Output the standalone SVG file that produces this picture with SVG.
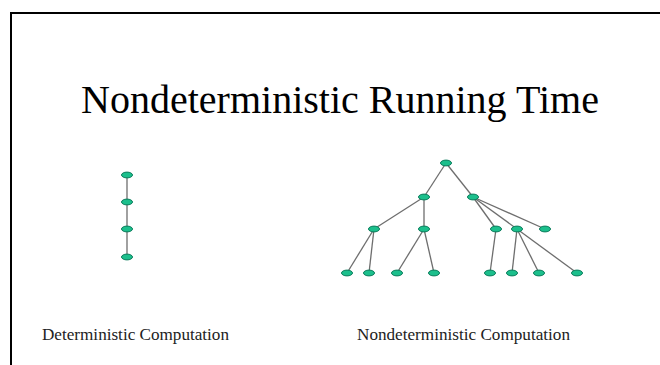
<svg xmlns="http://www.w3.org/2000/svg" width="660" height="365" viewBox="0 0 660 365">
  <style>
    .node { fill: #1cbf8c; stroke: #0b7d5c; stroke-width: 1; }
    .edge { stroke: #6e6e6e; stroke-width: 1.3; fill: none; }
    .title { font-family: "Liberation Serif", "Times New Roman", serif; font-size: 40px; fill: #000; }
    .caption { font-family: "Liberation Serif", "Times New Roman", serif; font-size: 17px; fill: #222; }
  </style>
  <defs>
    <ellipse id="dot" rx="5.5" ry="2.9"/>
  </defs>
  <rect width="660" height="365" fill="#fff"/>
  <!-- slide frame: left and top edges only -->
  <path d="M11 365 V13 H660" fill="none" stroke="#000" stroke-width="2"/>

  <text class="title" x="340" y="113" text-anchor="middle">Nondeterministic Running Time</text>

  <!-- connectors -->
  <g id="connectors" class="edge">
    <!-- deterministic chain -->
    <line x1="127" y1="175" x2="127" y2="257"/>
    <!-- nondeterministic tree -->
    <line x1="446" y1="163" x2="424" y2="197"/>
    <line x1="446" y1="163" x2="473" y2="197"/>
    <line x1="424" y1="197" x2="374" y2="229"/>
    <line x1="424" y1="197" x2="424" y2="229"/>
    <line x1="473" y1="197" x2="496" y2="229"/>
    <line x1="473" y1="197" x2="517" y2="229"/>
    <line x1="473" y1="197" x2="545" y2="229"/>
    <line x1="374" y1="229" x2="347" y2="273"/>
    <line x1="374" y1="229" x2="369" y2="273"/>
    <line x1="424" y1="229" x2="397" y2="273"/>
    <line x1="424" y1="229" x2="434" y2="273"/>
    <line x1="496" y1="229" x2="490" y2="273"/>
    <line x1="517" y1="229" x2="512" y2="273"/>
    <line x1="517" y1="229" x2="539" y2="273"/>
    <line x1="517" y1="229" x2="577" y2="273"/>
  </g>

  <!-- deterministic computation nodes -->
  <g id="d1" class="node"><use href="#dot" x="127" y="175"/></g>
  <g id="d2" class="node"><use href="#dot" x="127" y="202"/></g>
  <g id="d3" class="node"><use href="#dot" x="127" y="229"/></g>
  <g id="d4" class="node"><use href="#dot" x="127" y="257"/></g>

  <!-- nondeterministic computation nodes -->
  <g id="n-root" class="node"><use href="#dot" x="446" y="163"/></g>
  <g id="n-a" class="node"><use href="#dot" x="424" y="197"/></g>
  <g id="n-b" class="node"><use href="#dot" x="473" y="197"/></g>
  <g id="n-aa" class="node"><use href="#dot" x="374" y="229"/></g>
  <g id="n-ab" class="node"><use href="#dot" x="424" y="229"/></g>
  <g id="n-ba" class="node"><use href="#dot" x="496" y="229"/></g>
  <g id="n-bb" class="node"><use href="#dot" x="517" y="229"/></g>
  <g id="n-bc" class="node"><use href="#dot" x="545" y="229"/></g>
  <g id="n-aaa" class="node"><use href="#dot" x="347" y="273"/></g>
  <g id="n-aab" class="node"><use href="#dot" x="369" y="273"/></g>
  <g id="n-aba" class="node"><use href="#dot" x="397" y="273"/></g>
  <g id="n-abb" class="node"><use href="#dot" x="434" y="273"/></g>
  <g id="n-baa" class="node"><use href="#dot" x="490" y="273"/></g>
  <g id="n-bba" class="node"><use href="#dot" x="512" y="273"/></g>
  <g id="n-bbb" class="node"><use href="#dot" x="539" y="273"/></g>
  <g id="n-bbc" class="node"><use href="#dot" x="577" y="273"/></g>

  <text class="caption" x="42" y="340" textLength="187" lengthAdjust="spacingAndGlyphs">Deterministic Computation</text>
  <text class="caption" x="357" y="340" textLength="213" lengthAdjust="spacingAndGlyphs">Nondeterministic Computation</text>
</svg>
